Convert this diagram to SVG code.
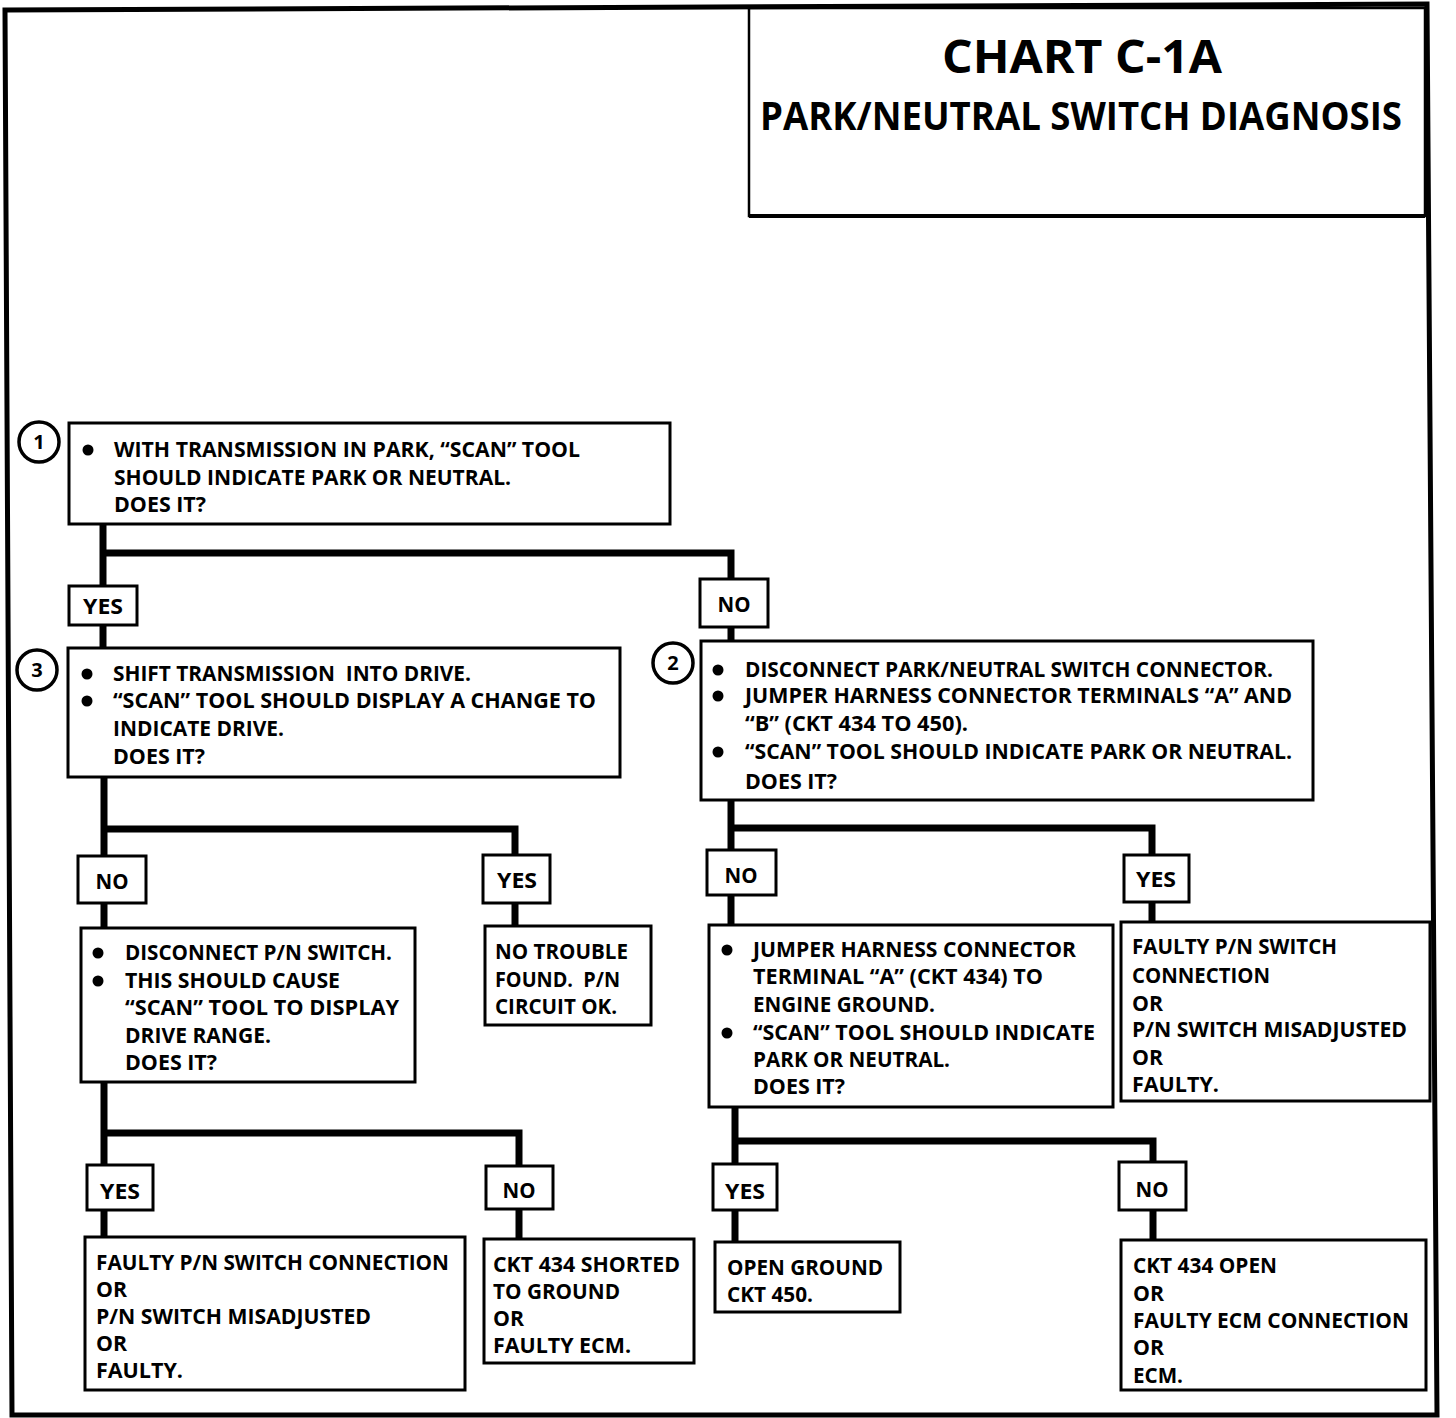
<svg xmlns="http://www.w3.org/2000/svg" width="1456" height="1418" viewBox="0 0 1456 1418">
<style>
.frame{fill:none;stroke:#000;stroke-width:5;stroke-linejoin:miter}
.box{fill:#fff;stroke:#000;stroke-width:3}
.lbl{fill:#fff;stroke:#000;stroke-width:3}
.num{fill:#fff;stroke:#000;stroke-width:3.5}
.wire{fill:none;stroke:#000;stroke-width:7;stroke-linejoin:miter;stroke-linecap:butt}
text{font-family:"Open Sans","Liberation Sans",sans-serif;font-weight:700;fill:#000;white-space:pre}
.t{font-size:21px}
.c{font-size:21px;text-anchor:middle}
.n{font-size:20px;text-anchor:middle}
.title{font-size:47px;text-anchor:middle}
.sub{font-size:39px}
.bul{fill:#000}
</style>
<rect width="1456" height="1418" fill="#fff"/>
<polygon class="frame" points="5,10 1427,4 1437,1415 12,1415"/>

<g id="title">
<rect x="749" y="8" width="676" height="208" fill="none" stroke="#000" stroke-width="2.5"/>
<line x1="749" y1="216" x2="1425" y2="216" stroke="#000" stroke-width="4"/>
<text class="title" x="1082" y="73" textLength="280" lengthAdjust="spacingAndGlyphs">CHART C-1A</text>
<text class="sub" x="760" y="130" textLength="642" lengthAdjust="spacingAndGlyphs">PARK/NEUTRAL SWITCH DIAGNOSIS</text>
</g>

<g id="connectors">
<polyline class="wire" points="103,524 103,648"/>
<polyline class="wire" points="103,553 731,553 731,642"/>
<polyline class="wire" points="104,777 104,928"/>
<polyline class="wire" points="104,829 515,829 515,926"/>
<polyline class="wire" points="104,1082 104,1237"/>
<polyline class="wire" points="104,1133 519,1133 519,1239"/>
<polyline class="wire" points="731,800 731,925"/>
<polyline class="wire" points="731,828 1152,828 1152,922"/>
<polyline class="wire" points="735,1107 735,1242"/>
<polyline class="wire" points="735,1141 1153,1141 1153,1240"/>
</g>

<g id="step1">
<circle class="num" cx="39" cy="442" r="20"/>
<text class="n" x="39" y="449">1</text>
<rect class="box" x="69" y="423" width="601" height="101"/>
<circle class="bul" cx="88" cy="450" r="5.5"/>
<text class="t" x="114" y="457" textLength="466" lengthAdjust="spacingAndGlyphs">WITH TRANSMISSION IN PARK, “SCAN” TOOL</text>
<text class="t" x="114" y="485" textLength="397" lengthAdjust="spacingAndGlyphs">SHOULD INDICATE PARK OR NEUTRAL.</text>
<text class="t" x="114" y="512" textLength="92" lengthAdjust="spacingAndGlyphs">DOES IT?</text>
</g>

<g id="yes1">
<rect class="lbl" x="69" y="586" width="68" height="39"/>
<text class="c" x="103" y="614" textLength="40" lengthAdjust="spacingAndGlyphs">YES</text>
</g>
<g id="no1">
<rect class="lbl" x="700" y="579" width="68" height="48"/>
<text class="c" x="734" y="612" textLength="33" lengthAdjust="spacingAndGlyphs">NO</text>
</g>

<g id="step3">
<circle class="num" cx="37" cy="670" r="20"/>
<text class="n" x="37" y="677">3</text>
<rect class="box" x="68" y="648" width="552" height="129"/>
<circle class="bul" cx="87" cy="674" r="5.5"/>
<circle class="bul" cx="87" cy="701" r="5.5"/>
<text class="t" x="113" y="681" textLength="358" lengthAdjust="spacingAndGlyphs">SHIFT TRANSMISSION  INTO DRIVE.</text>
<text class="t" x="113" y="708" textLength="483" lengthAdjust="spacingAndGlyphs">“SCAN” TOOL SHOULD DISPLAY A CHANGE TO</text>
<text class="t" x="113" y="736" textLength="171" lengthAdjust="spacingAndGlyphs">INDICATE DRIVE.</text>
<text class="t" x="113" y="764" textLength="92" lengthAdjust="spacingAndGlyphs">DOES IT?</text>
</g>

<g id="step2">
<circle class="num" cx="673" cy="663" r="20"/>
<text class="n" x="673" y="670">2</text>
<rect class="box" x="701" y="641" width="612" height="159"/>
<circle class="bul" cx="718" cy="670" r="5.5"/>
<circle class="bul" cx="718" cy="696" r="5.5"/>
<circle class="bul" cx="718" cy="752" r="5.5"/>
<text class="t" x="745" y="677" textLength="528" lengthAdjust="spacingAndGlyphs">DISCONNECT PARK/NEUTRAL SWITCH CONNECTOR.</text>
<text class="t" x="745" y="703" textLength="547" lengthAdjust="spacingAndGlyphs">JUMPER HARNESS CONNECTOR TERMINALS “A” AND</text>
<text class="t" x="745" y="731" textLength="223" lengthAdjust="spacingAndGlyphs">“B” (CKT 434 TO 450).</text>
<text class="t" x="745" y="759" textLength="547" lengthAdjust="spacingAndGlyphs">“SCAN” TOOL SHOULD INDICATE PARK OR NEUTRAL.</text>
<text class="t" x="745" y="789" textLength="92" lengthAdjust="spacingAndGlyphs">DOES IT?</text>
</g>

<g id="no3">
<rect class="lbl" x="78" y="856" width="68" height="47"/>
<text class="c" x="112" y="889" textLength="33" lengthAdjust="spacingAndGlyphs">NO</text>
</g>
<g id="yes3">
<rect class="lbl" x="483" y="855" width="67" height="48"/>
<text class="c" x="517" y="888" textLength="40" lengthAdjust="spacingAndGlyphs">YES</text>
</g>

<g id="step3a">
<rect class="box" x="81" y="928" width="334" height="154"/>
<circle class="bul" cx="98" cy="953" r="5.5"/>
<circle class="bul" cx="98" cy="981" r="5.5"/>
<text class="t" x="125" y="960" textLength="267" lengthAdjust="spacingAndGlyphs">DISCONNECT P/N SWITCH.</text>
<text class="t" x="125" y="988" textLength="215" lengthAdjust="spacingAndGlyphs">THIS SHOULD CAUSE</text>
<text class="t" x="125" y="1015" textLength="274" lengthAdjust="spacingAndGlyphs">“SCAN” TOOL TO DISPLAY</text>
<text class="t" x="125" y="1043" textLength="146" lengthAdjust="spacingAndGlyphs">DRIVE RANGE.</text>
<text class="t" x="125" y="1070" textLength="92" lengthAdjust="spacingAndGlyphs">DOES IT?</text>
</g>

<g id="notrouble">
<rect class="box" x="485" y="926" width="166" height="99"/>
<text class="t" x="495" y="959" textLength="133" lengthAdjust="spacingAndGlyphs">NO TROUBLE</text>
<text class="t" x="495" y="987" textLength="125" lengthAdjust="spacingAndGlyphs">FOUND.  P/N</text>
<text class="t" x="495" y="1014" textLength="122" lengthAdjust="spacingAndGlyphs">CIRCUIT OK.</text>
</g>

<g id="no2">
<rect class="lbl" x="707" y="850" width="69" height="45"/>
<text class="c" x="741" y="883" textLength="33" lengthAdjust="spacingAndGlyphs">NO</text>
</g>
<g id="yes2">
<rect class="lbl" x="1124" y="855" width="65" height="47"/>
<text class="c" x="1156" y="887" textLength="40" lengthAdjust="spacingAndGlyphs">YES</text>
</g>

<g id="step2a">
<rect class="box" x="709" y="925" width="404" height="182"/>
<circle class="bul" cx="727" cy="950" r="5.5"/>
<circle class="bul" cx="727" cy="1033" r="5.5"/>
<text class="t" x="753" y="957" textLength="323" lengthAdjust="spacingAndGlyphs">JUMPER HARNESS CONNECTOR</text>
<text class="t" x="753" y="984" textLength="290" lengthAdjust="spacingAndGlyphs">TERMINAL “A” (CKT 434) TO</text>
<text class="t" x="753" y="1012" textLength="182" lengthAdjust="spacingAndGlyphs">ENGINE GROUND.</text>
<text class="t" x="753" y="1040" textLength="342" lengthAdjust="spacingAndGlyphs">“SCAN” TOOL SHOULD INDICATE</text>
<text class="t" x="753" y="1067" textLength="197" lengthAdjust="spacingAndGlyphs">PARK OR NEUTRAL.</text>
<text class="t" x="753" y="1094" textLength="92" lengthAdjust="spacingAndGlyphs">DOES IT?</text>
</g>

<g id="faulty-right">
<rect class="box" x="1121" y="922" width="309" height="179"/>
<text class="t" x="1132" y="954" textLength="205" lengthAdjust="spacingAndGlyphs">FAULTY P/N SWITCH</text>
<text class="t" x="1132" y="983" textLength="138" lengthAdjust="spacingAndGlyphs">CONNECTION</text>
<text class="t" x="1132" y="1011" textLength="31" lengthAdjust="spacingAndGlyphs">OR</text>
<text class="t" x="1132" y="1037" textLength="275" lengthAdjust="spacingAndGlyphs">P/N SWITCH MISADJUSTED</text>
<text class="t" x="1132" y="1065" textLength="31" lengthAdjust="spacingAndGlyphs">OR</text>
<text class="t" x="1132" y="1092" textLength="87" lengthAdjust="spacingAndGlyphs">FAULTY.</text>
</g>

<g id="yes4">
<rect class="lbl" x="87" y="1165" width="66" height="45"/>
<text class="c" x="120" y="1199" textLength="40" lengthAdjust="spacingAndGlyphs">YES</text>
</g>
<g id="no4">
<rect class="lbl" x="486" y="1166" width="67" height="43"/>
<text class="c" x="519" y="1198" textLength="33" lengthAdjust="spacingAndGlyphs">NO</text>
</g>
<g id="yes5">
<rect class="lbl" x="713" y="1164" width="64" height="46"/>
<text class="c" x="745" y="1199" textLength="40" lengthAdjust="spacingAndGlyphs">YES</text>
</g>
<g id="no5">
<rect class="lbl" x="1119" y="1162" width="67" height="48"/>
<text class="c" x="1152" y="1197" textLength="33" lengthAdjust="spacingAndGlyphs">NO</text>
</g>

<g id="faulty-left">
<rect class="box" x="85" y="1237" width="380" height="153"/>
<text class="t" x="96" y="1270" textLength="353" lengthAdjust="spacingAndGlyphs">FAULTY P/N SWITCH CONNECTION</text>
<text class="t" x="96" y="1297" textLength="31" lengthAdjust="spacingAndGlyphs">OR</text>
<text class="t" x="96" y="1324" textLength="275" lengthAdjust="spacingAndGlyphs">P/N SWITCH MISADJUSTED</text>
<text class="t" x="96" y="1351" textLength="31" lengthAdjust="spacingAndGlyphs">OR</text>
<text class="t" x="96" y="1378" textLength="87" lengthAdjust="spacingAndGlyphs">FAULTY.</text>
</g>

<g id="shorted">
<rect class="box" x="484" y="1239" width="210" height="124"/>
<text class="t" x="493" y="1272" textLength="187" lengthAdjust="spacingAndGlyphs">CKT 434 SHORTED</text>
<text class="t" x="493" y="1299" textLength="127" lengthAdjust="spacingAndGlyphs">TO GROUND</text>
<text class="t" x="493" y="1326" textLength="31" lengthAdjust="spacingAndGlyphs">OR</text>
<text class="t" x="493" y="1353" textLength="138" lengthAdjust="spacingAndGlyphs">FAULTY ECM.</text>
</g>

<g id="openground">
<rect class="box" x="715" y="1242" width="185" height="70"/>
<text class="t" x="727" y="1275" textLength="156" lengthAdjust="spacingAndGlyphs">OPEN GROUND</text>
<text class="t" x="727" y="1302" textLength="86" lengthAdjust="spacingAndGlyphs">CKT 450.</text>
</g>

<g id="ckt434open">
<rect class="box" x="1121" y="1240" width="305" height="150"/>
<text class="t" x="1133" y="1273" textLength="144" lengthAdjust="spacingAndGlyphs">CKT 434 OPEN</text>
<text class="t" x="1133" y="1301" textLength="31" lengthAdjust="spacingAndGlyphs">OR</text>
<text class="t" x="1133" y="1328" textLength="276" lengthAdjust="spacingAndGlyphs">FAULTY ECM CONNECTION</text>
<text class="t" x="1133" y="1355" textLength="31" lengthAdjust="spacingAndGlyphs">OR</text>
<text class="t" x="1133" y="1383" textLength="50" lengthAdjust="spacingAndGlyphs">ECM.</text>
</g>
</svg>
